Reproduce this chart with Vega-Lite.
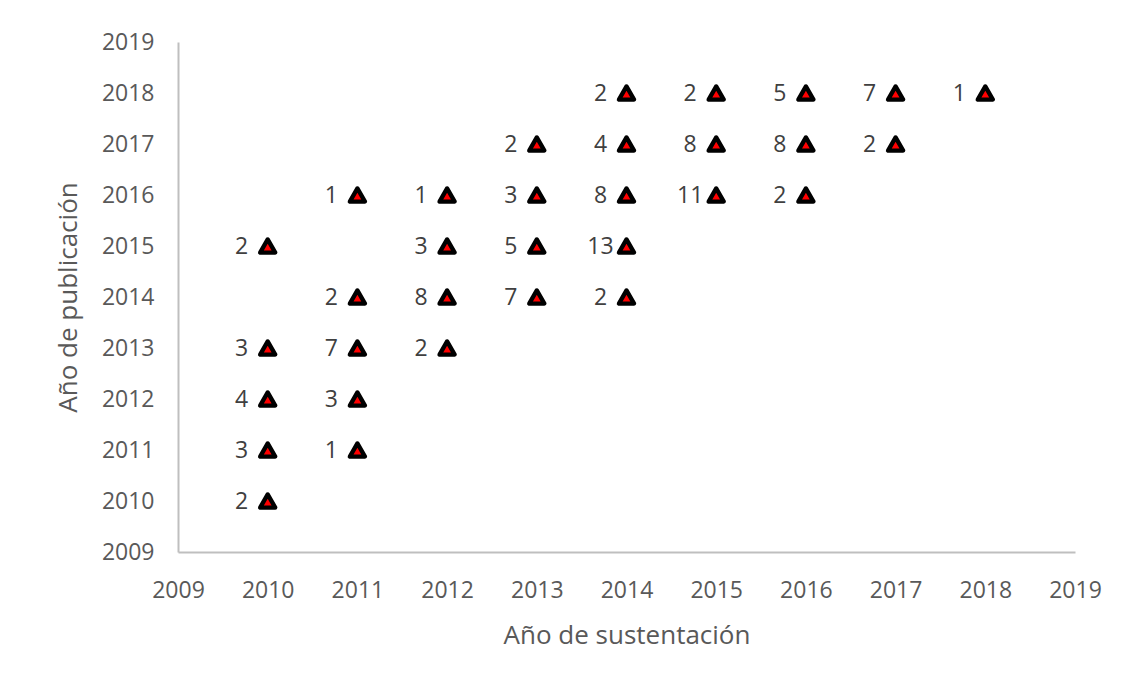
{
  "$schema": "https://vega.github.io/schema/vega-lite/v6.json",
  "autosize": "none",
  "width": 897,
  "height": 510,
  "padding": {"left": 178, "top": 42, "right": 54, "bottom": 138},
  "background": "white",
  "config": {"view": {"stroke": null}},
  "data": {"values": [
    {"sust": 2010, "pub": 2015, "n": 2},
    {"sust": 2010, "pub": 2013, "n": 3},
    {"sust": 2010, "pub": 2012, "n": 4},
    {"sust": 2010, "pub": 2011, "n": 3},
    {"sust": 2010, "pub": 2010, "n": 2},
    {"sust": 2011, "pub": 2016, "n": 1},
    {"sust": 2011, "pub": 2014, "n": 2},
    {"sust": 2011, "pub": 2013, "n": 7},
    {"sust": 2011, "pub": 2012, "n": 3},
    {"sust": 2011, "pub": 2011, "n": 1},
    {"sust": 2012, "pub": 2016, "n": 1},
    {"sust": 2012, "pub": 2015, "n": 3},
    {"sust": 2012, "pub": 2014, "n": 8},
    {"sust": 2012, "pub": 2013, "n": 2},
    {"sust": 2013, "pub": 2017, "n": 2},
    {"sust": 2013, "pub": 2016, "n": 3},
    {"sust": 2013, "pub": 2015, "n": 5},
    {"sust": 2013, "pub": 2014, "n": 7},
    {"sust": 2014, "pub": 2018, "n": 2},
    {"sust": 2014, "pub": 2017, "n": 4},
    {"sust": 2014, "pub": 2016, "n": 8},
    {"sust": 2014, "pub": 2015, "n": 13},
    {"sust": 2014, "pub": 2014, "n": 2},
    {"sust": 2015, "pub": 2018, "n": 2},
    {"sust": 2015, "pub": 2017, "n": 8},
    {"sust": 2015, "pub": 2016, "n": 11},
    {"sust": 2016, "pub": 2018, "n": 5},
    {"sust": 2016, "pub": 2017, "n": 8},
    {"sust": 2016, "pub": 2016, "n": 2},
    {"sust": 2017, "pub": 2018, "n": 7},
    {"sust": 2017, "pub": 2017, "n": 2},
    {"sust": 2018, "pub": 2018, "n": 1}
  ]},
  "encoding": {
    "x": {
      "field": "sust", "type": "quantitative",
      "scale": {"domain": [2009, 2019], "nice": false, "zero": false},
      "axis": {
        "title": "Año de sustentación",
        "values": [2009, 2010, 2011, 2012, 2013, 2014, 2015, 2016, 2017, 2018, 2019],
        "format": "d", "grid": false, "ticks": false,
        "domainColor": "#bfbfbf", "domainWidth": 2,
        "labelFont": "Open Sans", "labelFontSize": 23, "labelColor": "#595959", "labelPadding": 27,
        "labelFlush": false, "labelOverlap": false,
        "titleFont": "Open Sans", "titleFontSize": 26, "titleFontWeight": "normal", "titleColor": "#595959", "titlePadding": 20
      }
    },
    "y": {
      "field": "pub", "type": "quantitative",
      "scale": {"domain": [2009, 2019], "nice": false, "zero": false},
      "axis": {
        "title": "Año de publicación",
        "values": [2009, 2010, 2011, 2012, 2013, 2014, 2015, 2016, 2017, 2018, 2019],
        "format": "d", "grid": false, "ticks": false,
        "domainColor": "#bfbfbf", "domainWidth": 2,
        "labelFont": "Open Sans", "labelFontSize": 23, "labelColor": "#595959", "labelPadding": 24,
        "labelFlush": false, "labelOverlap": false,
        "titleFont": "Open Sans", "titleFontSize": 26, "titleFontWeight": "normal", "titleColor": "#595959", "titlePadding": 20
      }
    }
  },
  "layer": [
    {
      "mark": {"type": "point", "shape": "triangle-up", "filled": true, "fill": "#ff0000", "stroke": "#000000", "strokeWidth": 4.3, "strokeJoin": "round", "size": 230, "opacity": 1}
    },
    {
      "mark": {"type": "text", "align": "center", "baseline": "middle", "dx": -26, "dy": 1, "font": "Open Sans", "fontSize": 23, "color": "#404040"},
      "encoding": {"text": {"field": "n", "type": "quantitative"}}
    }
  ]
}
